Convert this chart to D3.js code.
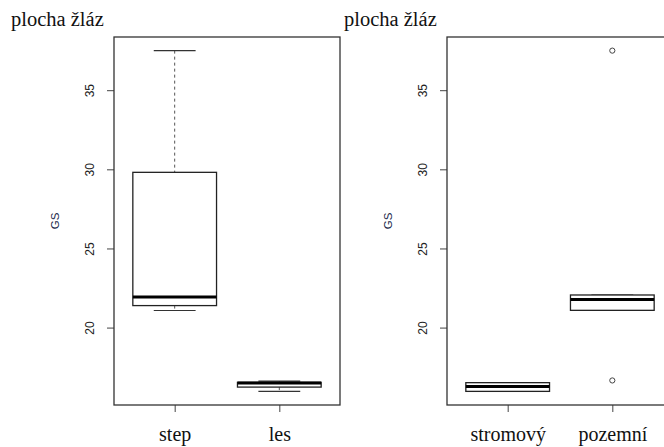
<!DOCTYPE html>
<html><head><meta charset="utf-8">
<script src="https://cdn.jsdelivr.net/npm/d3@7"></script>
<style>html,body{margin:0;padding:0;background:#fff;}svg{display:block;}</style>
</head><body>
<script>
// Panel 1: plocha žláz by habitat
const groups1 = ["step", "les"];
const lowWhisker1 = [21.08, 15.97];
const q1_1 = [21.39, 16.24];
const median1 = [21.94, 16.50];
const q3_1 = [29.81, 16.54];
const highWhisker1 = [37.5, 16.62];
const outliers1 = [[], []];

// Panel 2: plocha žláz by growth form
const groups2 = ["stromový", "pozemní"];
const lowWhisker2 = [15.97, 21.09];
const q1_2 = [15.97, 21.09];
const median2 = [16.28, 21.77];
const q3_2 = [16.52, 22.06];
const highWhisker2 = [16.52, 22.06];
const outliers2 = [[], [37.5, 16.66]];

const yTicks = [20, 25, 30, 35];
const title = "plocha žláz";
const yLabel = "GS";

const W = 664, H = 447;
const svg = d3.select("body").append("svg").attr("width", W).attr("height", H);

function panel(offsetX, groups, lw, q1, med, q3, hw, outs) {
  const g = svg.append("g").attr("transform", `translate(${offsetX},0)`);
  const left = 114, right = 340, top = 37, bottom = 405;
  const allVals = [].concat(lowWhisker1, highWhisker1, lowWhisker2, highWhisker2, ...outliers2);
  const mn = d3.min(allVals), mx = d3.max(allVals), ext = (mx - mn) * 0.04;
  const y = d3.scaleLinear().domain([mn - ext, mx + ext]).range([bottom, top]);
  const n = groups.length;
  const x = d3.scaleLinear().domain([0.5 - 0.04 * n, n + 0.5 + 0.04 * n]).range([left, right]);
  const unit = x(2) - x(1);
  const bw = unit * 0.8;

  // title
  g.append("text").attr("x", 11).attr("y", 25.5)
    .attr("font-family", "Liberation Serif, Times New Roman, serif").attr("font-size", 20.5)
    .attr("fill", "#111").text(title);

  // y label
  g.append("text").attr("transform", `translate(59,${(top + bottom) / 2}) rotate(-90)`)
    .attr("text-anchor", "middle").attr("font-family", "Liberation Sans, Arial, sans-serif")
    .attr("font-size", 11.5).attr("fill", "#1a2a4a").text(yLabel);

  // y axis
  const yAxis = d3.axisLeft(y).tickValues(yTicks).tickSize(7).tickFormat(d3.format("d"));
  const ya = g.append("g").attr("transform", `translate(${left},0)`).call(yAxis);
  ya.select(".domain").remove();
  ya.selectAll(".tick line").attr("stroke", "#444");
  ya.selectAll(".tick text")
    .attr("font-family", "Liberation Sans, Arial, sans-serif").attr("font-size", 12).attr("fill", "#222")
    .attr("text-anchor", "middle").attr("x", 0).attr("dy", 0)
    .attr("transform", "translate(-24,0) rotate(-90)").attr("dominant-baseline", "central");

  // x axis
  const xAxis = d3.axisBottom(x).tickValues(d3.range(1, n + 1)).tickSize(7).tickFormat((d) => groups[d - 1]);
  const xa = g.append("g").attr("transform", `translate(0,${bottom})`).call(xAxis);
  xa.select(".domain").remove();
  xa.selectAll(".tick line").attr("stroke", "#444");
  xa.selectAll(".tick text")
    .attr("font-family", "Liberation Serif, Times New Roman, serif").attr("font-size", 20).attr("fill", "#111")
    .attr("y", 0).attr("dy", 0).attr("transform", "translate(0,36)");

  // frame
  g.append("rect").attr("x", left).attr("y", top).attr("width", right - left).attr("height", bottom - top)
    .attr("fill", "none").attr("stroke", "#333").attr("stroke-width", 1.3);

  groups.forEach((name, i) => {
    const cx = x(i + 1);
    // whiskers
    g.append("line").attr("x1", cx).attr("x2", cx).attr("y1", y(hw[i])).attr("y2", y(q3[i]))
      .attr("stroke", "#555").attr("stroke-dasharray", "3,3");
    g.append("line").attr("x1", cx).attr("x2", cx).attr("y1", y(q1[i])).attr("y2", y(lw[i]))
      .attr("stroke", "#555").attr("stroke-dasharray", "3,3");
    // staples
    [hw[i], lw[i]].forEach((v) => {
      g.append("line").attr("x1", cx - bw / 4).attr("x2", cx + bw / 4).attr("y1", y(v)).attr("y2", y(v))
        .attr("stroke", "#333").attr("stroke-width", 1.2);
    });
    // box
    g.append("rect").attr("x", cx - bw / 2).attr("y", y(q3[i])).attr("width", bw)
      .attr("height", Math.max(0.5, y(q1[i]) - y(q3[i])))
      .attr("fill", "#fff").attr("stroke", "#222").attr("stroke-width", 1.3);
    // median
    g.append("line").attr("x1", cx - bw / 2).attr("x2", cx + bw / 2).attr("y1", y(med[i])).attr("y2", y(med[i]))
      .attr("stroke", "#000").attr("stroke-width", 3);
    // outliers
    outs[i].forEach((v) => {
      g.append("circle").attr("cx", cx).attr("cy", y(v)).attr("r", 2.6)
        .attr("fill", "none").attr("stroke", "#444").attr("stroke-width", 1);
    });
  });
}

panel(0, groups1, lowWhisker1, q1_1, median1, q3_1, highWhisker1, outliers1);
panel(333, groups2, lowWhisker2, q1_2, median2, q3_2, highWhisker2, outliers2);
</script>
</body></html>
